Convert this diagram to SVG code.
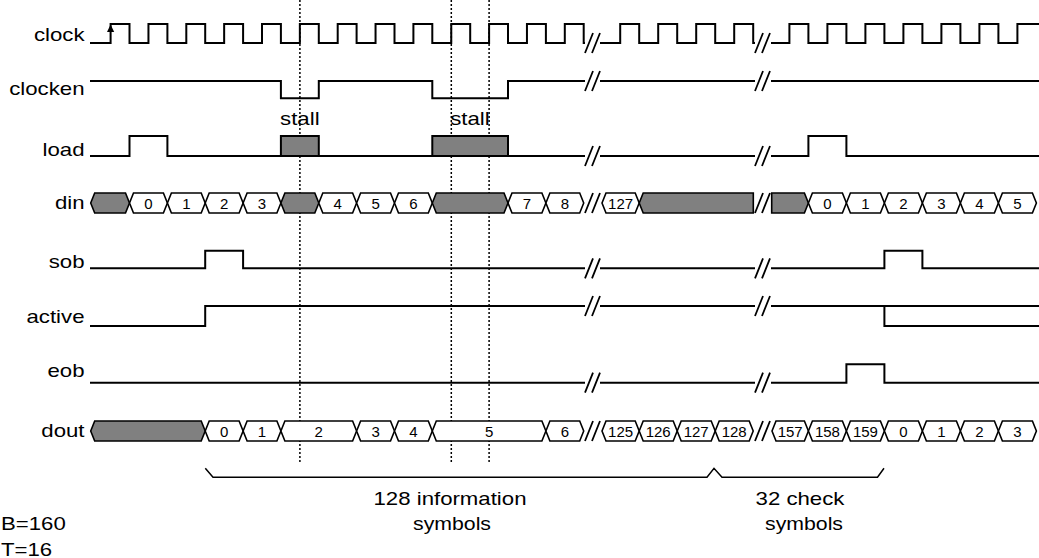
<svg xmlns="http://www.w3.org/2000/svg" width="1039" height="558" viewBox="0 0 1039 558">
<style>
.sig{fill:none;stroke:#000;stroke-width:2;stroke-linejoin:miter}
.brk{fill:none;stroke:#000;stroke-width:1.8}
.guide{fill:none;stroke:#000;stroke-width:1.5;stroke-dasharray:2 2}
.bus{fill:#fff;stroke:#000;stroke-width:1.6}
.gray{fill:#808080;stroke:#000;stroke-width:1.6}
.lbl{font-family:"Liberation Sans",Arial,sans-serif;font-size:18.5px;fill:#000}
.num{font-family:"Liberation Sans",Arial,sans-serif;font-size:15px;fill:#000;text-anchor:middle}
.brace{fill:none;stroke:#000;stroke-width:1.5}
</style>
<defs>
<path id="brk1" d="M585,10 L593,-10 M592,10 L600,-10"/>
<path id="brk2" d="M755,10 L763,-10 M762,10 L770,-10"/>
</defs>

<g id="guides">
<line class="guide" x1="299.9" y1="0" x2="299.9" y2="462"/>
<line class="guide" x1="451.3" y1="0" x2="451.3" y2="462"/>
<line class="guide" x1="489.1" y1="0" x2="489.1" y2="462"/>
</g>

<g id="clock">
<text class="lbl" x="33.9" y="41" textLength="50.6" lengthAdjust="spacingAndGlyphs">clock</text>
<path class="sig" d="M90,43 H110.6 V24 H129.5 V43 H148.45 V24 H167.4 V43 H186.3 V24 H205.2 V43 H224.15 V24 H243.1 V43 H262 V24 H280.9 V43 H299.85 V24 H318.8 V43 H337.7 V24 H356.6 V43 H375.55 V24 H394.5 V43 H413.4 V24 H432.3 V43 H451.25 V24 H470.2 V43 H489.1 V24 H508 V43 H526.95 V24 H545.9 V43 H564.8 V24 H583.7 V43 H585"/>
<path class="sig" d="M600,43 H620.2 V24 H639.2 V43 H658.2 V24 H677.2 V43 H696.2 V24 H715.2 V43 H734.2 V24 H753.2 V43 H755"/>
<path class="sig" d="M771,43 H789.4 V24 H808.4 V43 H827.4 V24 H846.4 V43 H865.4 V24 H884.4 V43 H903.4 V24 H922.4 V43 H941.4 V24 H960.4 V43 H979.4 V24 H998.4 V43 H1017.4 V24 H1039"/>
<polygon points="110.6,24.5 107,32 114.2,32" fill="#000"/>
<use href="#brk1" class="brk" transform="translate(0,43)"/>
<use href="#brk2" class="brk" transform="translate(0,43)"/>
</g>

<g id="clocken">
<text class="lbl" x="9.2" y="95" textLength="75.3" lengthAdjust="spacingAndGlyphs">clocken</text>
<path class="sig" d="M90,81 H280.9 V98.3 H318.8 V81 H432.3 V98.3 H508 V81 H585"/>
<path class="sig" d="M600,81 H755"/>
<path class="sig" d="M771,81 H1039"/>
<use href="#brk1" class="brk" transform="translate(0,81)"/>
<use href="#brk2" class="brk" transform="translate(0,81)"/>
<text class="lbl" x="280.1" y="125" textLength="39.5" lengthAdjust="spacingAndGlyphs">stall</text>
<text class="lbl" x="450.2" y="125" textLength="39.5" lengthAdjust="spacingAndGlyphs">stall</text>
</g>

<g id="load">
<text class="lbl" x="42.5" y="156" textLength="42" lengthAdjust="spacingAndGlyphs">load</text>
<path class="sig" d="M90,156 H129.5 V136 H167.4 V156 H585"/>
<path class="sig" d="M600,156 H755"/>
<path class="sig" d="M771,156 H808.4 V136 H846.4 V156 H1039"/>
<rect class="gray" x="280.9" y="136" width="37.9" height="20" style="stroke-width:2"/>
<rect class="gray" x="432.3" y="136" width="75.7" height="20" style="stroke-width:2"/>
<use href="#brk1" class="brk" transform="translate(0,156)"/>
<use href="#brk2" class="brk" transform="translate(0,156)"/>
</g>

<g id="din">
<text class="lbl" x="54.9" y="209" textLength="29.6" lengthAdjust="spacingAndGlyphs">din</text>
<polygon class="gray" points="90.7,203 94.7,193 125.5,193 129.5,203 125.5,213 94.7,213"/>
<polygon class="bus" points="129.5,203 133.5,193 163.4,193 167.4,203 163.4,213 133.5,213"/>
<polygon class="bus" points="167.4,203 171.4,193 201.2,193 205.2,203 201.2,213 171.4,213"/>
<polygon class="bus" points="205.2,203 209.2,193 239.1,193 243.1,203 239.1,213 209.2,213"/>
<polygon class="bus" points="243.1,203 247.1,193 276.9,193 280.9,203 276.9,213 247.1,213"/>
<polygon class="gray" points="280.9,203 284.9,193 314.8,193 318.8,203 314.8,213 284.9,213"/>
<polygon class="bus" points="318.8,203 322.8,193 352.6,193 356.6,203 352.6,213 322.8,213"/>
<polygon class="bus" points="356.6,203 360.6,193 390.5,193 394.5,203 390.5,213 360.6,213"/>
<polygon class="bus" points="394.5,203 398.5,193 428.3,193 432.3,203 428.3,213 398.5,213"/>
<polygon class="gray" points="432.3,203 436.3,193 504,193 508,203 504,213 436.3,213"/>
<polygon class="bus" points="508,203 512,193 541.9,193 545.9,203 541.9,213 512,213"/>
<polygon class="bus" points="545.9,203 549.9,193 579.7,193 583.7,203 579.7,213 549.9,213"/>
<polygon class="bus" points="602,203 606,193 635.2,193 639.2,203 635.2,213 606,213"/>
<polygon class="gray" points="639.2,203 643.2,193 753.3,193 753.3,213 643.2,213"/>
<polygon class="gray" points="771.7,193 804.4,193 808.4,203 804.4,213 771.7,213"/>
<polygon class="bus" points="808.4,203 812.4,193 842.4,193 846.4,203 842.4,213 812.4,213"/>
<polygon class="bus" points="846.4,203 850.4,193 880.4,193 884.4,203 880.4,213 850.4,213"/>
<polygon class="bus" points="884.4,203 888.4,193 918.4,193 922.4,203 918.4,213 888.4,213"/>
<polygon class="bus" points="922.4,203 926.4,193 956.4,193 960.4,203 956.4,213 926.4,213"/>
<polygon class="bus" points="960.4,203 964.4,193 994.4,193 998.4,203 994.4,213 964.4,213"/>
<polygon class="bus" points="998.4,203 1002.4,193 1032.4,193 1036.4,203 1032.4,213 1002.4,213"/>
<text class="num" x="148.45" y="208.5">0</text>
<text class="num" x="186.3" y="208.5">1</text>
<text class="num" x="224.15" y="208.5">2</text>
<text class="num" x="262" y="208.5">3</text>
<text class="num" x="337.7" y="208.5">4</text>
<text class="num" x="375.55" y="208.5">5</text>
<text class="num" x="413.4" y="208.5">6</text>
<text class="num" x="527" y="208.5">7</text>
<text class="num" x="564.8" y="208.5">8</text>
<text class="num" x="620.6" y="208.5">127</text>
<text class="num" x="827.4" y="208.5">0</text>
<text class="num" x="865.4" y="208.5">1</text>
<text class="num" x="903.4" y="208.5">2</text>
<text class="num" x="941.4" y="208.5">3</text>
<text class="num" x="979.4" y="208.5">4</text>
<text class="num" x="1017.4" y="208.5">5</text>
<use href="#brk1" class="brk" transform="translate(0,203)"/>
<use href="#brk2" class="brk" transform="translate(0,203)"/>
</g>

<g id="sob">
<text class="lbl" x="48.7" y="268" textLength="35.8" lengthAdjust="spacingAndGlyphs">sob</text>
<path class="sig" d="M90,268.3 H205.2 V250.7 H243.1 V268.3 H585"/>
<path class="sig" d="M600,268.3 H755"/>
<path class="sig" d="M771,268.3 H884.4 V250.7 H922.4 V268.3 H1039"/>
<use href="#brk1" class="brk" transform="translate(0,268.3)"/>
<use href="#brk2" class="brk" transform="translate(0,268.3)"/>
</g>

<g id="active">
<text class="lbl" x="26.5" y="323" textLength="58" lengthAdjust="spacingAndGlyphs">active</text>
<path class="sig" d="M90,326 H205.2 V306 H585"/>
<path class="sig" d="M600,306 H755"/>
<path class="sig" d="M771,306 H1039 M884.4,306 V326 H1039"/>
<use href="#brk1" class="brk" transform="translate(0,306)"/>
<use href="#brk2" class="brk" transform="translate(0,306)"/>
</g>

<g id="eob">
<text class="lbl" x="47.5" y="377" textLength="37" lengthAdjust="spacingAndGlyphs">eob</text>
<path class="sig" d="M90,382.7 H585"/>
<path class="sig" d="M600,382.7 H755"/>
<path class="sig" d="M771,382.7 H846.4 V364.3 H884.4 V382.7 H1039"/>
<use href="#brk1" class="brk" transform="translate(0,382.7)"/>
<use href="#brk2" class="brk" transform="translate(0,382.7)"/>
</g>

<g id="dout">
<text class="lbl" x="41.3" y="437" textLength="43.2" lengthAdjust="spacingAndGlyphs">dout</text>
<polygon class="gray" points="90.7,431 94.7,421 201.2,421 205.2,431 201.2,441 94.7,441"/>
<polygon class="bus" points="205.2,431 209.2,421 239.1,421 243.1,431 239.1,441 209.2,441"/>
<polygon class="bus" points="243.1,431 247.1,421 276.9,421 280.9,431 276.9,441 247.1,441"/>
<polygon class="bus" points="280.9,431 284.9,421 352.6,421 356.6,431 352.6,441 284.9,441"/>
<polygon class="bus" points="356.6,431 360.6,421 390.5,421 394.5,431 390.5,441 360.6,441"/>
<polygon class="bus" points="394.5,431 398.5,421 428.3,421 432.3,431 428.3,441 398.5,441"/>
<polygon class="bus" points="432.3,431 436.3,421 541.9,421 545.9,431 541.9,441 436.3,441"/>
<polygon class="bus" points="545.9,431 549.9,421 579.7,421 583.7,431 579.7,441 549.9,441"/>
<polygon class="bus" points="602,431 606,421 635.2,421 639.2,431 635.2,441 606,441"/>
<polygon class="bus" points="639.2,431 643.2,421 673.2,421 677.2,431 673.2,441 643.2,441"/>
<polygon class="bus" points="677.2,431 681.2,421 711.2,421 715.2,431 711.2,441 681.2,441"/>
<polygon class="bus" points="715.2,431 719.2,421 749.2,421 753.2,431 749.2,441 719.2,441"/>
<polygon class="bus" points="772,431 776,421 804.4,421 808.4,431 804.4,441 776,441"/>
<polygon class="bus" points="808.4,431 812.4,421 842.4,421 846.4,431 842.4,441 812.4,441"/>
<polygon class="bus" points="846.4,431 850.4,421 880.4,421 884.4,431 880.4,441 850.4,441"/>
<polygon class="bus" points="884.4,431 888.4,421 918.4,421 922.4,431 918.4,441 888.4,441"/>
<polygon class="bus" points="922.4,431 926.4,421 956.4,421 960.4,431 956.4,441 926.4,441"/>
<polygon class="bus" points="960.4,431 964.4,421 994.4,421 998.4,431 994.4,441 964.4,441"/>
<polygon class="bus" points="998.4,431 1002.4,421 1032.4,421 1036.4,431 1032.4,441 1002.4,441"/>
<text class="num" x="224.15" y="436.5">0</text>
<text class="num" x="262" y="436.5">1</text>
<text class="num" x="318.75" y="436.5">2</text>
<text class="num" x="375.55" y="436.5">3</text>
<text class="num" x="413.4" y="436.5">4</text>
<text class="num" x="489.1" y="436.5">5</text>
<text class="num" x="564.8" y="436.5">6</text>
<text class="num" x="620.6" y="436.5">125</text>
<text class="num" x="658.2" y="436.5">126</text>
<text class="num" x="696.2" y="436.5">127</text>
<text class="num" x="734.2" y="436.5">128</text>
<text class="num" x="790.2" y="436.5">157</text>
<text class="num" x="827.4" y="436.5">158</text>
<text class="num" x="865.4" y="436.5">159</text>
<text class="num" x="903.4" y="436.5">0</text>
<text class="num" x="941.4" y="436.5">1</text>
<text class="num" x="979.4" y="436.5">2</text>
<text class="num" x="1017.4" y="436.5">3</text>
<use href="#brk1" class="brk" transform="translate(0,431)"/>
<use href="#brk2" class="brk" transform="translate(0,431)"/>
</g>

<g id="brace">
<path class="brace" d="M205.3,468.3 L213,477.3 H707 L714,468.3 L722,477.3 H877.5 L884,468.3"/>
<text class="lbl" x="373.5" y="505" textLength="153" lengthAdjust="spacingAndGlyphs">128 information</text>
<text class="lbl" x="413" y="530" textLength="78" lengthAdjust="spacingAndGlyphs">symbols</text>
<text class="lbl" x="755.6" y="505" textLength="88.8" lengthAdjust="spacingAndGlyphs">32 check</text>
<text class="lbl" x="765" y="530" textLength="78" lengthAdjust="spacingAndGlyphs">symbols</text>
</g>

<g id="params">
<text class="lbl" x="1" y="530" textLength="64.8" lengthAdjust="spacingAndGlyphs">B=160</text>
<text class="lbl" x="1" y="556" textLength="51.2" lengthAdjust="spacingAndGlyphs">T=16</text>
</g>
</svg>
